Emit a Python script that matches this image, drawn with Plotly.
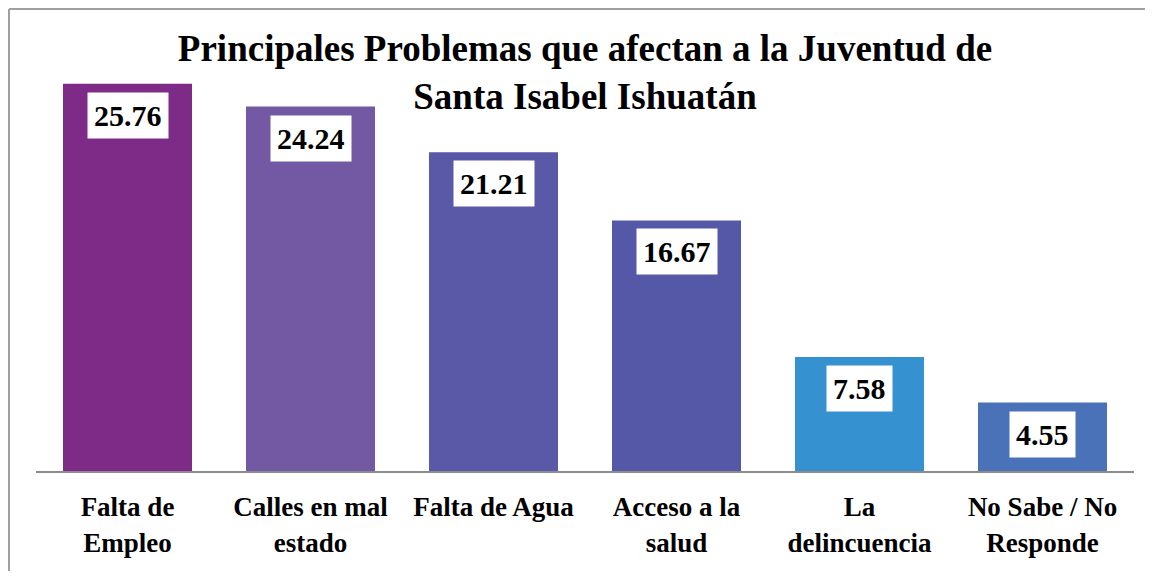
#!/usr/bin/env python3

import plotly.graph_objects as go

categories = ["Falta de<br>Empleo", "Calles en mal<br>estado", "Falta de Agua",
              "Acceso a la<br>salud", "La<br>delincuencia", "No Sabe / No<br>Responde"]
values = [25.76, 24.24, 21.21, 16.67, 7.58, 4.55]
bar_colors = ["#7E2A87", "#7358A4", "#5A59A7", "#5558A6", "#3591D0", "#4A72B8"]

FONT = "Liberation Serif"

# the page body has an 8px margin all round, so keep the figure inside the window
W, H = 1137, 563
L, T = 28, 12

fig = go.Figure()
fig.add_trace(go.Bar(x=categories, y=values,
                     marker=dict(color=bar_colors, line=dict(width=0)),
                     hoverinfo="x+y"))

# value labels in white boxes near the top of each bar
for cat, val in zip(categories, values):
    fig.add_annotation(x=cat, y=val, text="<b>%.2f</b>" % val,
                       showarrow=False, yanchor="top", yshift=-8,
                       bgcolor="white", borderpad=6,
                       font=dict(family=FONT, size=30, color="black"))

# grey frame: only the top and left edges show in the original
frame = dict(color="#A0A0A0", width=2)
fig.add_shape(type="line", xref="paper", yref="paper",
              xsizemode="pixel", ysizemode="pixel", xanchor=0, yanchor=1,
              x0=-(L - 1), x1=W - L, y0=T - 1, y1=T - 1, line=frame)
fig.add_shape(type="line", xref="paper", yref="paper",
              xsizemode="pixel", ysizemode="pixel", xanchor=0, yanchor=1,
              x0=-(L - 1), x1=-(L - 1), y0=T - 1, y1=-(H - T), line=frame)

fig.update_layout(
    width=W, height=H,
    margin=dict(l=L, r=11, t=T, b=100),
    paper_bgcolor="white", plot_bgcolor="white",
    bargap=0.295, showlegend=False,
    title=dict(text="<b>Principales Problemas que afectan a la Juventud de<br>Santa Isabel Ishuatán</b>",
               x=0.5, xref="paper", xanchor="center",
               y=1 - 53 / H, yref="container", yanchor="middle",
               font=dict(family=FONT, size=37, color="black")),
    font=dict(family=FONT),
)

fig.update_xaxes(showline=True, linecolor="#8C8C8C", linewidth=2,
                 ticks="", ticklabelstandoff=11,
                 tickfont=dict(family=FONT, size=27, color="black"))
fig.update_yaxes(range=[0, 30], visible=False, showgrid=False)

# bold tick labels
fig.update_xaxes(ticktext=["<b>%s</b>" % c for c in categories],
                 tickvals=categories, tickmode="array")

fig.write_html("out.html")
